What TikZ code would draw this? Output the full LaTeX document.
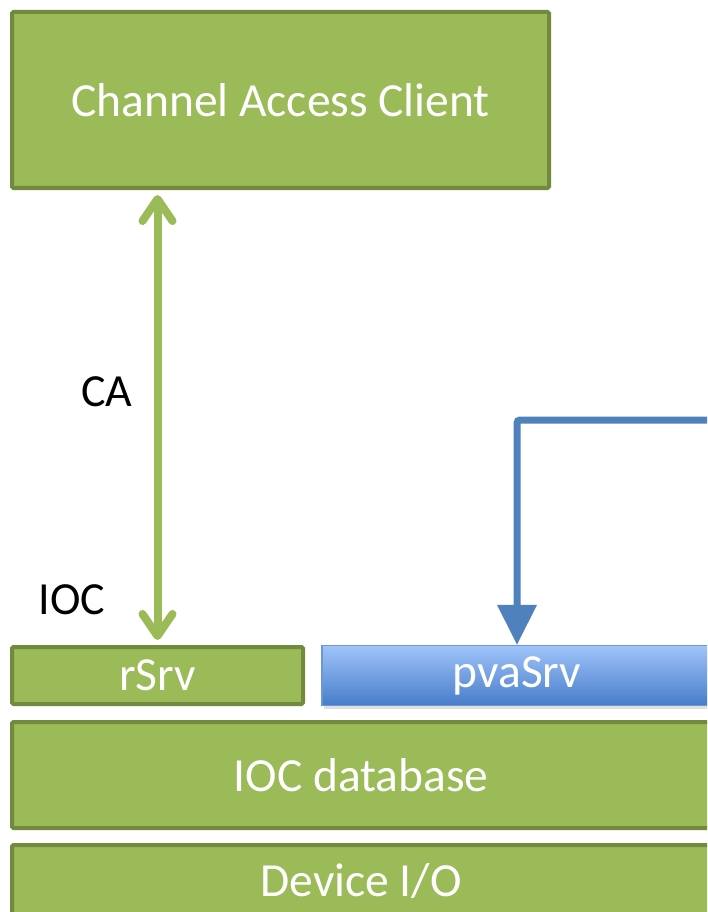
\documentclass[tikz,border=0pt]{standalone}
\usepackage{fontspec}
\setmainfont{Carlito}
\usetikzlibrary{arrows.meta,calc,shadows}
\definecolor{gfill}{HTML}{9BBB59}
\definecolor{gline}{HTML}{728A3E}
\definecolor{bline}{HTML}{4F81BD}
\definecolor{btop}{HTML}{A0C4FA}
\definecolor{bbot}{HTML}{477CC9}
\definecolor{bborder}{HTML}{6A98D6}
\tikzset{
  greenbox/.style={draw=gline, line width=4pt, fill=gfill, rounded corners=1.5pt,
    text=white, font=\fontsize{47.5}{55}\selectfont, inner sep=0pt},
  bluebox/.style={draw=bborder, line width=1.2pt, top color=btop, bottom color=bbot,
    text=white, font=\fontsize{47.5}{55}\selectfont, inner sep=0pt,
    drop shadow={shadow xshift=2pt, shadow yshift=-3pt, opacity=0.25}},
  lbl/.style={text=black, font=\fontsize{46}{55}\selectfont, inner sep=0pt},
  greenarrow/.style={draw=gfill, line width=8pt,
    {Straight Barb[length=22pt,width=30pt,line cap=round,line join=round]}-{Straight Barb[length=22pt,width=30pt,line cap=round,line join=round]}},
  bluearrow/.style={draw=bline, line width=7pt, rounded corners=3pt,
    -{Triangle[length=40pt,width=38pt]}}
}
\begin{document}
\begin{tikzpicture}[x=1pt,y=-1pt]
\useasboundingbox (0,0) rectangle (707,912);
\fill[white] (0,0) rectangle (707,912);
\clip (0,0) rectangle (707,912);
\node[greenbox, minimum width=537pt, minimum height=176pt] (cac) at (280.5,100) {Channel Access Client};
\node[greenbox, minimum width=291pt, minimum height=57pt] (rsrv) at (157.5,675.5) {rSrv};
\node[bluebox, minimum width=390pt, minimum height=60pt] (pva) at (517,675.5) {pvaSrv};
\node[greenbox, minimum width=698pt, minimum height=106pt] (iocdb) at (361,775) {IOC database};
\node[greenbox, minimum width=698pt, minimum height=72pt] (dev) at (361,881) {Device I/O};
\node[lbl] (ca) at (107,392) {CA};
\node[lbl] (ioc) at (72,600) {IOC};
\draw[greenarrow, shorten <=5pt, shorten >=5pt] (rsrv.north |- cac.south) -- (rsrv.north);
\coordinate (bstart) at (730,420);
\draw[bluearrow] (bstart) -| (pva.north);
\end{tikzpicture}
\end{document}
